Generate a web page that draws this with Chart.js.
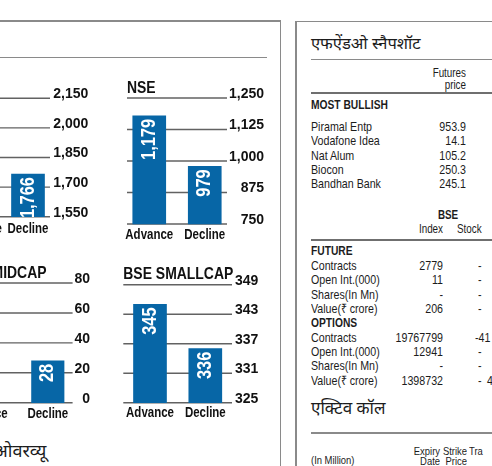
<!DOCTYPE html>
<html><head><meta charset="utf-8">
<script src="https://cdn.jsdelivr.net/npm/chart.js@4.4.1/dist/chart.umd.min.js"></script>
<style>
html,body{margin:0;padding:0;background:#fff;}
body{width:492px;height:466px;overflow:hidden;position:relative;color:#1c1c1c;font-family:'Liberation Sans',Arial,sans-serif;}
.t{position:absolute;white-space:nowrap;line-height:1;}
.r{position:absolute;background:#8a8a8a;}
canvas{position:absolute;}
.dev{font-family:'Noto Sans','Noto Sans Devanagari','Lohit Devanagari',sans-serif;}
</style>
</head><body>
<!-- panel rules -->
<div class="r" style="left:0;top:20px;width:281px;height:1.5px"></div>
<div class="r" style="left:0;top:56.5px;width:267px;height:1.5px"></div>
<div class="r" style="left:279.5px;top:20px;width:1.5px;height:446px"></div>
<div class="r" style="left:295px;top:20.5px;width:1.5px;height:446px"></div>
<div class="r" style="left:295px;top:20.5px;width:197px;height:1.5px"></div>
<div class="r" style="left:311px;top:58.5px;width:181px;height:1.5px"></div>
<div class="r" style="left:311px;top:92px;width:181px;height:1.5px;background:#6f6f6f"></div>
<div class="r" style="left:311px;top:239px;width:181px;height:1.5px;background:#6f6f6f"></div>
<div class="r" style="left:311px;top:432px;width:181px;height:1.5px"></div>
<script>
// ---------- chart data ----------
const categories = ['Advance', 'Decline'];
const chartTitles = ['BSE', 'NSE', 'BSE MIDCAP', 'BSE SMALLCAP'];
const bseValues = [null, 1766];
const nseValues = [1179, 979];
const midcapValues = [null, 28];
const smallcapValues = [345, 336];
const bseTicks = [1550, 1700, 1850, 2000, 2150];
const nseTicks = [750, 875, 1000, 1125, 1250];
const midcapTicks = [0, 20, 40, 60, 80];
const smallcapTicks = [325, 331, 337, 343, 349];

// ---------- table data ----------
const panelTitle = 'एफऐंडओ स्नैपशॉट';
const futuresHeader = ['Futures', 'price'];
const bullishTitle = 'MOST BULLISH';
const bullishNames = ['Piramal Entp', 'Vodafone Idea', 'Nat Alum', 'Biocon', 'Bandhan Bank'];
const bullishPrices = ['953.9', '14.1', '105.2', '250.3', '245.1'];
const bseHeader = ['BSE', 'Index', 'Stock'];
const foSections = ['FUTURE', 'OPTIONS'];
const foRowLabels = ['Contracts', 'Open Int.(000)', 'Shares(In Mn)', 'Value(₹ crore)'];
const futureIndex = ['2779', '11', '-', '206'];
const futureStock = ['-', '-', '-', '-'];
const optionsIndex = ['19767799', '12941', '-', '1398732'];
const optionsStock = ['-41', '-', '-', '-\u20024'];
const activeCallTitle = 'एक्टिव कॉल';
const activeCallHeader = ['(In Million)', 'Expiry', 'Date', 'Strike', 'Price', 'Tra'];
const overviewText = 'ओवरव्यू';

const SX = 0.82; // horizontal condensing for the narrow newspaper face

// ---------- text helper ----------
function put(text, x, cy, o) {
  o = o || {};
  const s = o.size || 13;
  const d = document.createElement('div');
  d.className = 't' + (o.dev ? ' dev' : '');
  d.textContent = text;
  d.style.fontSize = s + 'px';
  if (o.bold) d.style.fontWeight = 'bold';
  d.style.top = (cy - 0.49 * s) + 'px';
  const a = o.align || 'left';
  if (a === 'left') { d.style.left = x + 'px'; d.style.transformOrigin = 'left center'; }
  else if (a === 'right') { d.style.left = (x - 300) + 'px'; d.style.width = '300px'; d.style.textAlign = 'right'; d.style.transformOrigin = 'right center'; }
  else { d.style.left = (x - 100) + 'px'; d.style.width = '200px'; d.style.textAlign = 'center'; d.style.transformOrigin = 'center center'; }
  if (!o.dev) d.style.transform = 'scaleX(' + SX + ')';
  document.body.appendChild(d);
}

// table
put(panelTitle, 311, 43, {size: 16.5, dev: true});
put(futuresHeader[0], 465.5, 73, {size: 12, align: 'right'});
put(futuresHeader[1], 465.5, 84.5, {size: 12, align: 'right'});
put(bullishTitle, 311, 105.5, {size: 12.5, bold: true});
bullishNames.forEach((n, i) => {
  const cy = 126.2 + i * 14.35;
  put(n, 311, cy, {size: 13});
  put(bullishPrices[i], 465.5, cy, {size: 13, align: 'right'});
});
put(bseHeader[0], 448, 214.5, {size: 12, bold: true, align: 'center'});
put(bseHeader[1], 442.5, 228.5, {size: 12, align: 'right'});
put(bseHeader[2], 457, 228.5, {size: 12});
[[futureIndex, futureStock], [optionsIndex, optionsStock]].forEach((sec, s) => {
  const base = 251 + s * 5 * 14.33;
  put(foSections[s], 311, base, {size: 12.5, bold: true});
  foRowLabels.forEach((lab, i) => {
    const cy = base + (i + 1) * 14.33;
    put(lab, 311, cy, {size: 13});
    put(sec[0][i], 443, cy, {size: 13, align: 'right'});
    put(sec[1][i], sec[1][i] === '-41' ? 474.5 : 477.8, cy, {size: 13});
  });
});
put(activeCallTitle, 311, 407, {size: 17, dev: true});
put(activeCallHeader[0], 311, 461, {size: 11.5});
put(activeCallHeader[1], 439.5, 451.5, {size: 11.5, align: 'right'});
put(activeCallHeader[2], 439.5, 461.5, {size: 11.5, align: 'right'});
put(activeCallHeader[3], 466.7, 451.5, {size: 11.5, align: 'right'});
put(activeCallHeader[4], 466.7, 461.5, {size: 11.5, align: 'right'});
put(activeCallHeader[5], 468.5, 451.5, {size: 11.5});
put(overviewText, -6, 450, {size: 18, dev: true});

// ---------- charts ----------
const BAR = '#0766a6';
const FONT = "'Liberation Sans', Arial, sans-serif";
const fmt = v => Number(v).toLocaleString('en-US');

function narrowText(ctx, text, x, y, align, rot) {
  ctx.save();
  ctx.translate(x, y);
  if (rot) ctx.rotate(rot);
  ctx.scale(SX, 1);
  ctx.textAlign = align;
  ctx.fillText(text, 0, 0);
  ctx.restore();
}

const paperPlugin = {
  id: 'paper',
  beforeDatasetsDraw(chart, args, opts) {
    const {ctx, chartArea} = chart;
    const ys = chart.scales.y;
    ctx.save();
    ctx.strokeStyle = '#626262';
    ctx.lineWidth = 1.4;
    ys.ticks.forEach(t => {
      const py = ys.getPixelForValue(t.value);
      ctx.beginPath();
      ctx.moveTo(chartArea.left - opts.ext, py);
      ctx.lineTo(chartArea.right + opts.ext, py);
      ctx.stroke();
    });
    ctx.restore();
  },
  afterDatasetsDraw(chart) {
    const {ctx} = chart;
    const meta = chart.getDatasetMeta(0);
    const data = chart.data.datasets[0].data;
    ctx.save();
    ctx.fillStyle = '#ffffff';
    ctx.font = 'bold 20px ' + FONT;
    ctx.textBaseline = 'middle';
    meta.data.forEach((bar, i) => {
      if (data[i] == null) return;
      narrowText(ctx, fmt(data[i]), bar.x, bar.y + 3, 'right', -Math.PI / 2);
    });
    ctx.restore();
  },
  afterDraw(chart, args, opts) {
    const {ctx, chartArea} = chart;
    const ys = chart.scales.y, xs = chart.scales.x;
    ctx.save();
    ctx.fillStyle = '#111';
    ctx.font = 'bold 14px ' + FONT;
    ctx.textBaseline = 'top';
    chart.data.labels.forEach((lab, i) => {
      narrowText(ctx, lab, xs.getPixelForTick(i), xs.top + opts.xPad, 'center');
    });
    ctx.font = 'bold 17px ' + FONT;
    ctx.textBaseline = 'alphabetic';
    narrowText(ctx, opts.title, chartArea.left - opts.ext, ys.getPixelForValue(ys.max) - 5.5, 'left');
    ctx.restore();
  }
};

// layout of each chart on the page: category centres, plot top/bottom, grid overhang, tick label edge
const charts = [
  {values: bseValues, ticks: bseTicks, title: chartTitles[0], cx: [-22, 28], top: 98.3, bottom: 216.7, ext: 22, labelRight: 88.3, bar: 33, xPad: 5},
  {values: nseValues, ticks: nseTicks, title: chartTitles[1], cx: [149.25, 204.75], top: 98, bottom: 224, ext: 22.25, labelRight: 264, bar: 33, xPad: 4.5},
  {values: midcapValues, ticks: midcapTicks, title: chartTitles[2], cx: [-16.2, 47.8], top: 283, bottom: 402.7, ext: 24.8, labelRight: 90, bar: 32.5, xPad: 4.2},
  {values: smallcapValues, ticks: smallcapTicks, title: chartTitles[3], cx: [150, 205.3], top: 284.8, bottom: 402.7, ext: 26.7, labelRight: 258.3, bar: 33, xPad: 3.6}
];

charts.forEach(cfg => {
  const xH = 22, padT = 24;
  const l = cfg.cx[0], r = cfg.cx[1];
  const yW = cfg.labelRight - r;
  const yMin = cfg.ticks[0], yMax = cfg.ticks[cfg.ticks.length - 1];
  const cl = Math.floor(l - cfg.ext - 14), ct = Math.floor(cfg.top - padT);
  const cr = Math.ceil(cfg.labelRight), cb = Math.ceil(cfg.bottom + xH + 2);
  const cv = document.createElement('canvas');
  cv.width = cr - cl; cv.height = cb - ct;
  cv.style.left = cl + 'px'; cv.style.top = ct + 'px';
  cv.style.width = (cr - cl) + 'px'; cv.style.height = (cb - ct) + 'px';
  document.body.appendChild(cv);
  new Chart(cv, {
    type: 'bar',
    data: {labels: categories, datasets: [{data: cfg.values, base: yMin, backgroundColor: BAR, barThickness: cfg.bar, clip: false}]},
    options: {
      responsive: false, animation: false, devicePixelRatio: 1,
      layout: {padding: {left: l - cl, top: cfg.top - ct, right: cr - cfg.labelRight, bottom: cb - cfg.bottom - xH}},
      plugins: {legend: {display: false}, tooltip: {enabled: false}, title: {display: false},
        paper: {ext: cfg.ext, title: cfg.title, xPad: cfg.xPad}},
      scales: {
        x: {offset: false, grid: {display: false, drawTicks: false}, border: {display: false},
            ticks: {display: false},
            afterFit: s => { s.height = xH; }},
        y: {position: 'right', min: yMin, max: yMax,
            grid: {display: false, drawTicks: false}, border: {display: false},
            afterBuildTicks: s => { s.ticks = cfg.ticks.map(v => ({value: v})); },
            ticks: {font: {family: FONT, size: 14, weight: 'bold'}, color: '#111', crossAlign: 'far', padding: 0, labelOffset: -4, callback: v => fmt(v)},
            afterFit: s => { s.width = yW; }}
      }
    },
    plugins: [paperPlugin]
  });
});
</script>
</body></html>
